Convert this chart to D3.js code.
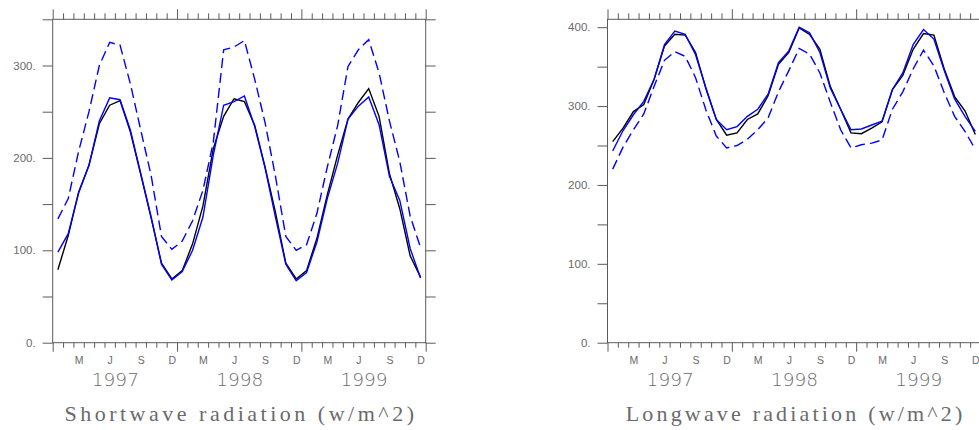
<!DOCTYPE html>
<html><head><meta charset="utf-8">
<script src="https://cdn.jsdelivr.net/npm/d3@7/dist/d3.min.js"></script>
<style>
body{margin:0;background:#fff;}
svg{display:block;}
</style></head>
<body>
<svg id="chart" width="979" height="430"></svg>
<script>
// ---- data (monthly, Jan 1997 – Dec 1999) ----
const years = ["1997", "1998", "1999"];
const monthLabels = ["M", "J", "S", "D"];
const monthLabelIndex = [2, 5, 8, 11];

const swBlack = [79,116,163,192,237,257,262,228,182,135,86,69,
                 78,107,148,210,245,264,261,235,190,141,86,69,
                 78,113,160,203,242,260,275,245,183,145,94,71];
const swBlue  = [98,118,162,192,240,265,263,230,183,136,85,68,
                 77,100,136,203,257,261,267,234,189,136,85,67,
                 76,109,156,194,242,256,266,236,180,154,102,70];
const swBlueDash = [134,156,207,250,300,325,322,280,230,181,115,101,
                    110,132,165,217,317,320,327,285,238,180,115,100,
                    106,140,190,235,299,317,328,292,240,196,137,103];

const lwBlack = [255,272,293,302,334,376,391,390,368,322,283,263,
                 266,283,290,313,353,368,399,391,372,325,296,266,
                 265,272,280,321,339,372,392,390,347,312,294,264];
const lwBlue  = [243,269,289,306,334,378,395,391,365,323,283,270,
                 274,287,296,315,355,370,400,393,368,323,296,270,
                 271,276,281,321,342,378,397,385,345,309,287,268];
const lwBlueDash = [220,248,270,290,325,358,369,363,336,295,262,247,
                    250,258,270,285,318,345,373,366,342,305,270,247,
                    251,253,257,296,318,347,371,351,317,287,268,245];

const swTicks = [0,50,100,150,200,250,300,350];
const lwTicks = [0,50,100,150,200,250,300,350,400];

const panels = [
  {x0:52.7, x1:425.7, ymax:350, ticks:swTicks, title:"Shortwave radiation (w/m^2)",
   series:[swBlack, swBlue, swBlueDash]},
  {x0:607.5, x1:980.5, ymax:410, ticks:lwTicks, title:"Longwave radiation (w/m^2)",
   series:[lwBlack, lwBlue, lwBlueDash]}
];
const styles = [
  {color:"#000000", dash:null},
  {color:"#0000ff", dash:null},
  {color:"#0000ff", dash:"10,5"}
];

const svg = d3.select("#chart");
const yTop = 19.3, yBot = 342.7;
const axisColor = "#5a5a5a", textColor = "#6a6a6a";

panels.forEach(p => {
  const x = d3.scaleLinear().domain([0, 36]).range([p.x0, p.x1]);
  const y = d3.scaleLinear().domain([0, p.ymax]).range([yBot, yTop]);
  const g = svg.append("g");

  const styleAxis = sel => {
    sel.select(".domain").remove();
    sel.selectAll("line").attr("stroke", axisColor).attr("stroke-width", 1);
    sel.selectAll("text").attr("fill", textColor);
  };

  // bottom ticks
  const minorMonths = d3.range(0, 37).filter(k => k % 12 !== 0);
  g.append("g").attr("transform", `translate(0,${yBot})`)
    .call(d3.axisBottom(x).tickValues(minorMonths).tickSize(5).tickFormat(""))
    .call(styleAxis);
  g.append("g").attr("transform", `translate(0,${yBot})`)
    .call(d3.axisBottom(x).tickValues([0,12,24,36]).tickSize(9).tickFormat(""))
    .call(styleAxis);
  // top ticks
  g.append("g").attr("transform", `translate(0,${yTop})`)
    .call(d3.axisTop(x).tickValues(minorMonths).tickSize(6).tickFormat(""))
    .call(styleAxis);
  g.append("g").attr("transform", `translate(0,${yTop})`)
    .call(d3.axisTop(x).tickValues([0,12,24,36]).tickSize(10).tickFormat(""))
    .call(styleAxis);

  // left / right y ticks
  g.append("g").attr("transform", `translate(${p.x0},0)`)
    .call(d3.axisLeft(y).tickValues(p.ticks).tickSize(10).tickPadding(7)
      .tickFormat(d => d % 100 === 0 ? d + "." : ""))
    .call(styleAxis)
    .call(s => s.selectAll("text").attr("font-family","'Liberation Sans', Arial, sans-serif").attr("font-size", 11.5));
  g.append("g").attr("transform", `translate(${p.x1},0)`)
    .call(d3.axisRight(y).tickValues(p.ticks).tickSize(10).tickFormat(""))
    .call(styleAxis);

  // frame
  g.append("rect").attr("x", p.x0).attr("y", yTop)
    .attr("width", p.x1 - p.x0).attr("height", yBot - yTop)
    .attr("fill", "none").attr("stroke", axisColor).attr("stroke-width", 1);

  // month labels
  const monthPos = [], monthTxt = [];
  years.forEach((yr, yi) => monthLabelIndex.forEach((m, mi) => {
    monthPos.push(yi * 12 + m + 0.5); monthTxt.push(monthLabels[mi]);
  }));
  g.append("g").attr("transform", `translate(0,${yBot})`)
    .call(d3.axisBottom(x).tickValues(monthPos).tickSize(0).tickPadding(14)
      .tickFormat((d, i) => monthTxt[i]))
    .call(styleAxis)
    .call(s => s.selectAll("text").attr("font-family","'Liberation Sans', Arial, sans-serif").attr("font-size", 10.5));

  // year labels
  g.append("g").attr("transform", `translate(0,${yBot})`)
    .call(d3.axisBottom(x).tickValues([6, 18, 30]).tickSize(0).tickPadding(30)
      .tickFormat((d, i) => years[i]))
    .call(styleAxis)
    .call(s => s.selectAll("text").attr("font-family","'DejaVu Sans', sans-serif")
      .attr("font-weight", 200).attr("font-size", 18.5));

  // title
  const titleW = p.title.length * 12.95;
  g.append("text").attr("x", (p.x0 + p.x1) / 2).attr("y", 421)
    .attr("text-anchor", "middle")
    .attr("font-family", "'Liberation Serif', 'DejaVu Serif', serif")
    .attr("font-size", 22).attr("fill", textColor)
    .attr("textLength", titleW).attr("lengthAdjust", "spacing")
    .text(p.title);

  // series
  const line = d3.line().x((d, i) => x(i + 0.5)).y(d => y(d));
  p.series.forEach((s, si) => {
    g.append("path").datum(s).attr("d", line)
      .attr("fill", "none").attr("stroke", styles[si].color)
      .attr("stroke-width", 1.4)
      .attr("stroke-dasharray", styles[si].dash);
  });
});
</script>
</body></html>
